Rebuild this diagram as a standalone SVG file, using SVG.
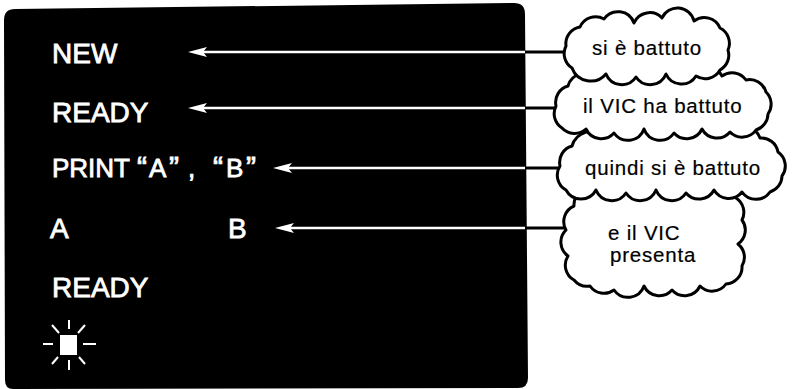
<svg xmlns="http://www.w3.org/2000/svg" width="793" height="389" viewBox="0 0 793 389">
  <style>
    .screen-text { font-family: "Liberation Sans", Arial, sans-serif; font-size: 28px; fill: #fff; stroke: #fff; stroke-width: 0.8; }
    .print-line { font-size: 26px; }
    .quote { font-size: 30px; }
    .cloud { fill: #fff; stroke: #000; stroke-width: 3; stroke-linejoin: round; }
    .cloud-text { font-family: "Liberation Sans", Arial, sans-serif; font-size: 20.5px; letter-spacing: 0.8px; fill: #000; stroke: #000; stroke-width: 0.2; }
    .wire-in { stroke: #fff; stroke-width: 2.4; fill: none; }
    .wire-out { stroke: #000; stroke-width: 2.8; fill: none; }
    .ray { stroke: #fff; stroke-width: 2; stroke-linecap: butt; }
  </style>
  <defs>
    <marker id="head" viewBox="-20 -6 20 12" markerWidth="20" markerHeight="12" refX="-8" refY="0" orient="auto" markerUnits="userSpaceOnUse" overflow="visible">
      <path d="M0,0 L-19,-5 L-15,0 L-19,5 Z" fill="#fff"/>
    </marker>
  </defs>

  <rect width="793" height="389" fill="#fff"/>

  <!-- TV screen -->
  <g id="screen">
    <path d="M4,20 Q4,9 15,9 L514,3 Q525,3 525,14 L528,378 Q528,388 518,388 L13,389 Q5,389 5,380 Z" fill="#000"/>
    <text class="screen-text" x="52" y="63">NEW</text>
    <text class="screen-text" x="52" y="122">READY</text>
    <text class="screen-text print-line" y="177"><tspan x="52">PRINT</tspan> <tspan class="quote" x="137">“</tspan><tspan x="149">A</tspan><tspan class="quote" x="169">”</tspan><tspan x="188">,</tspan> <tspan class="quote" x="213">“</tspan><tspan x="226">B</tspan><tspan class="quote" x="246">”</tspan></text>
    <text class="screen-text" x="50" y="238">A<tspan x="228">B</tspan></text>
    <text class="screen-text" x="52" y="297">READY</text>
  </g>

  <!-- blinking cursor -->
  <g id="cursor">
    <rect x="60" y="335" width="17" height="20" fill="#fff"/>
    <line class="ray" x1="69" y1="320" x2="69" y2="329"/>
    <line class="ray" x1="69" y1="360" x2="69" y2="370"/>
    <line class="ray" x1="43" y1="344" x2="53" y2="344"/>
    <line class="ray" x1="83" y1="344" x2="96" y2="344"/>
    <line class="ray" x1="52" y1="325" x2="59" y2="333"/>
    <line class="ray" x1="85" y1="325" x2="78" y2="333"/>
    <line class="ray" x1="58" y1="357" x2="52" y2="364"/>
    <line class="ray" x1="79" y1="357" x2="85" y2="364"/>
  </g>

  <!-- connectors: white inside the screen, black outside -->
  <g id="connectors">
    <path class="wire-in" d="M525,52 H196" marker-end="url(#head)"/>
    <path class="wire-out" d="M525,52 H575"/>
    <path class="wire-in" d="M525,108 H196" marker-end="url(#head)"/>
    <path class="wire-out" d="M525,108 H570"/>
    <path class="wire-in" d="M525,168 H281" marker-end="url(#head)"/>
    <path class="wire-out" d="M525,168 H575"/>
    <path class="wire-in" d="M525,228 H283" marker-end="url(#head)"/>
    <path class="wire-out" d="M525,228 H580"/>
  </g>

  <!-- speech clouds, lowest first so each upper one overlaps the next -->
  <g id="cloud4">
    <path class="cloud" d="M574,280 A17,17 0 0 1 568,256 A17,17 0 0 1 566,230 A17,17 0 0 1 574,206 A17,17 0 0 1 604,194 A20,20 0 0 1 640,192 A20,20 0 0 1 676,192 A20,20 0 0 1 712,192 A17,17 0 0 1 736,198 A17,17 0 0 1 742,220 A17,17 0 0 1 738,244 A17,17 0 0 1 742,266 A17,17 0 0 1 726,284 A17,17 0 0 1 700,286 A17,17 0 0 1 672,290 A17,17 0 0 1 644,286 A17,17 0 0 1 614,290 A17,17 0 0 1 590,286 A17,17 0 0 1 574,280 Z"/>
    <text class="cloud-text" x="608" y="240">e il VIC</text>
    <text class="cloud-text" x="610" y="262">presenta</text>
  </g>

  <g id="cloud3">
    <path class="cloud" d="M566,190 A17,17 0 0 1 560,166 A17,17 0 0 1 572,146 A20,20 0 0 1 604,136 A17,17 0 0 1 636,132 A17,17 0 0 1 668,132 A17,17 0 0 1 700,132 A17,17 0 0 1 732,132 A17,17 0 0 1 760,138 A17,17 0 0 1 778,152 A17,17 0 0 1 782,176 A17,17 0 0 1 770,192 A17,17 0 0 1 742,192 A17,17 0 0 1 714,190 A17,17 0 0 1 686,193 A17,17 0 0 1 656,190 A17,17 0 0 1 626,193 A17,17 0 0 1 596,190 A17,17 0 0 1 566,190 Z"/>
    <text class="cloud-text" x="585" y="175">quindi si è battuto</text>
  </g>

  <g id="cloud2">
    <path class="cloud" d="M562,128 A17,17 0 0 1 556,106 A17,17 0 0 1 568,86 A17,17 0 0 1 596,78 A17,17 0 0 1 628,76 A17,17 0 0 1 660,76 A17,17 0 0 1 692,75 A17,17 0 0 1 722,76 A17,17 0 0 1 746,80 A17,17 0 0 1 766,92 A17,17 0 0 1 768,114 A17,17 0 0 1 756,130 A17,17 0 0 1 730,132 A17,17 0 0 1 702,129 A17,17 0 0 1 674,133 A17,17 0 0 1 644,129 A17,17 0 0 1 614,133 A17,17 0 0 1 586,129 A17,17 0 0 1 562,128 Z"/>
    <text class="cloud-text" x="583" y="113">il VIC ha battuto</text>
  </g>

  <g id="cloud1">
    <path class="cloud" d="M572,68 A17,17 0 0 1 566,46 A17,17 0 0 1 580,27 A17,17 0 0 1 604,19 A17,17 0 0 1 634,23 A17,17 0 0 1 662,18 A17,17 0 0 1 694,21 A17,17 0 0 1 720,28 A17,17 0 0 1 728,50 A17,17 0 0 1 720,70 A17,17 0 0 1 696,76 A17,17 0 0 1 666,74 A17,17 0 0 1 636,77 A17,17 0 0 1 606,74 A20,20 0 0 1 572,68 Z"/>
    <text class="cloud-text" x="592" y="55">si è battuto</text>
  </g>
</svg>
